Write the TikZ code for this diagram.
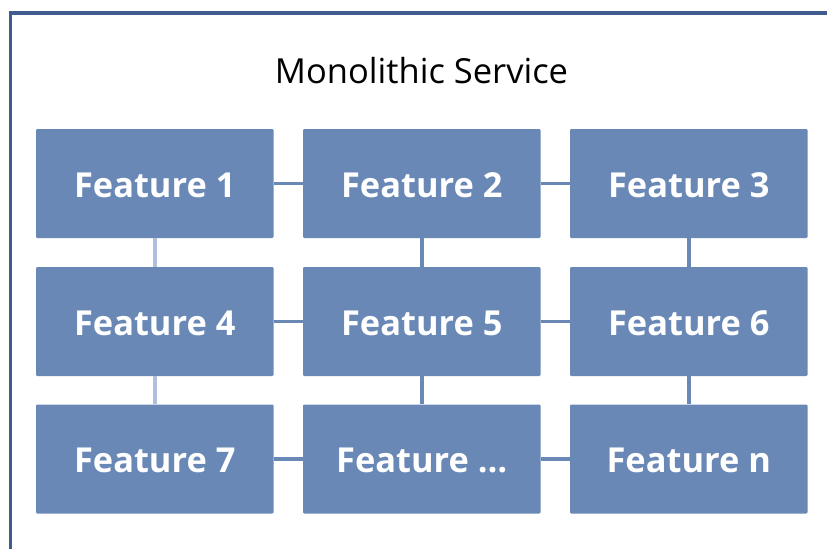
\documentclass[tikz,border=0pt]{standalone}
\usepackage{fontspec}
\setmainfont{Open Sans}
\definecolor{boxblue}{HTML}{6A88B6}
\definecolor{framecol}{HTML}{3E5C8E}
\definecolor{lightcon}{HTML}{B0C0DA}
\begin{document}
\begin{tikzpicture}[x=1pt,y=-1pt,
  feat/.style={fill=boxblue, draw=none, rounded corners=1.2pt, minimum width=237.5pt, minimum height=109pt, inner sep=0pt,
    text height=27pt, text depth=0pt,
    text=white, font=\fontsize{34.4}{36}\selectfont\bfseries},
  con/.style={draw=boxblue, line width=3.6pt},
  conlight/.style={draw=lightcon, line width=3.6pt}]
\useasboundingbox (0,0) rectangle (827,549);
\fill[white] (0,0) rectangle (827,549);
\draw[framecol, line width=3.6pt] (10.5,549) -- (10.5,13) -- (827,13);
\node[font=\fontsize{34.5}{38}\selectfont, text=black, inner sep=0pt] (title) at (421.5,71) {Monolithic Service};
% boxes
\node[feat] (f1) at (154.75,183.5) {Feature 1};
\node[feat] (f2) at (421.75,183.5) {Feature 2};
\node[feat] (f3) at (688.75,183.5) {Feature 3};
\node[feat] (f4) at (154.75,321.5) {Feature 4};
\node[feat] (f5) at (421.75,321.5) {Feature 5};
\node[feat] (f6) at (688.75,321.5) {Feature 6};
\node[feat] (f7) at (154.75,459) {Feature 7};
\node[feat] (f8) at (421.75,459) {Feature …};
\node[feat] (f9) at (688.75,459) {Feature n};
% connectors
\draw[con] (f1.east) -- (f2.west);
\draw[con] (f2.east) -- (f3.west);
\draw[con] (f4.east) -- (f5.west);
\draw[con] (f5.east) -- (f6.west);
\draw[con] (f7.east) -- (f8.west);
\draw[con] (f8.east) -- (f9.west);
\draw[conlight] (f1.south) -- (f4.north);
\draw[conlight] (f4.south) -- (f7.north);
\draw[con] (f2.south) -- (f5.north);
\draw[con] (f5.south) -- (f8.north);
\draw[con] (f3.south) -- (f6.north);
\draw[con] (f6.south) -- (f9.north);
\end{tikzpicture}
\end{document}
